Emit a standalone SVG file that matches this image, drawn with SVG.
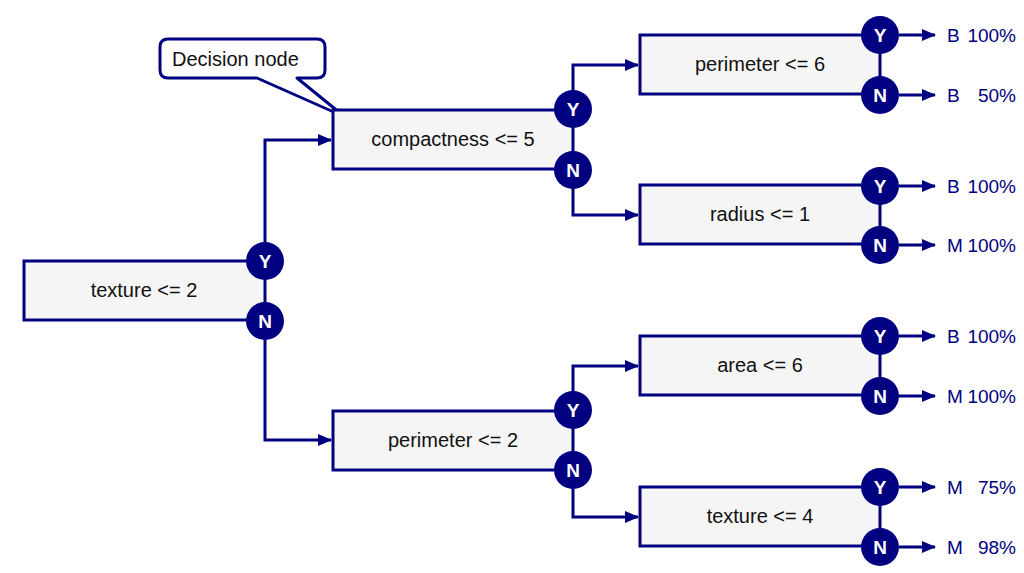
<svg xmlns="http://www.w3.org/2000/svg" width="1024" height="573" viewBox="0 0 1024 573">
<defs>
<marker id="ah" markerWidth="14" markerHeight="12" refX="13" refY="6" orient="auto" markerUnits="userSpaceOnUse">
<path d="M0,0 L14,6 L0,12 Z" fill="#000080"/>
</marker>
<style>
.box{fill:#f5f5f5;stroke:#000080;stroke-width:3}
.lbl{font-family:"Liberation Sans",Arial,sans-serif;font-size:20px;fill:#111;text-anchor:middle}
.c{fill:#000080}
.ct{font-family:"Liberation Sans",Arial,sans-serif;font-size:19px;font-weight:bold;fill:#fff;text-anchor:middle}
.ln{fill:none;stroke:#000080;stroke-width:3}
.res{font-family:"Liberation Sans",Arial,sans-serif;font-size:19px;fill:#000080}
.call{font-family:"Liberation Sans",Arial,sans-serif;font-size:20px;fill:#111}
</style>
</defs>
<rect width="1024" height="573" fill="#fff"/>
<g id="connectors">
<path class="ln" d="M265,261 V140 H331" marker-end="url(#ah)"/>
<path class="ln" d="M265,321 V440 H331" marker-end="url(#ah)"/>
<path class="ln" d="M573,109 V65 H638" marker-end="url(#ah)"/>
<path class="ln" d="M573,170 V215 H638" marker-end="url(#ah)"/>
<path class="ln" d="M573,410 V366 H638" marker-end="url(#ah)"/>
<path class="ln" d="M573,470 V517 H638" marker-end="url(#ah)"/>
<path class="ln" d="M899,35 H935" marker-end="url(#ah)"/>
<path class="ln" d="M899,95 H935" marker-end="url(#ah)"/>
<path class="ln" d="M899,186 H935" marker-end="url(#ah)"/>
<path class="ln" d="M899,245 H935" marker-end="url(#ah)"/>
<path class="ln" d="M899,336 H935" marker-end="url(#ah)"/>
<path class="ln" d="M899,396 H935" marker-end="url(#ah)"/>
<path class="ln" d="M899,487 H935" marker-end="url(#ah)"/>
<path class="ln" d="M899,547 H935" marker-end="url(#ah)"/>
</g>
<g id="callout">
<path d="M168,39 H317 Q325,39 325,47 V70 Q325,78 317,78 H297 L345,117 L257,78 H168 Q160,78 160,70 V47 Q160,39 168,39 Z" fill="#fff" stroke="#000080" stroke-width="3" stroke-linejoin="round"/>
<text x="172" y="66" class="call">Decision node</text>
</g>
<g id="n_root">
<rect class="box" x="24" y="261" width="241" height="59"/>
<text class="lbl" x="144" y="297">texture &lt;= 2</text>
<circle class="c" cx="265" cy="261" r="19"/><text class="ct" x="265" y="268">Y</text>
<circle class="c" cx="265" cy="321" r="19"/><text class="ct" x="265" y="328">N</text>
</g>
<g id="n_compact">
<rect class="box" x="333" y="110" width="240" height="59"/>
<text class="lbl" x="453" y="146">compactness &lt;= 5</text>
<circle class="c" cx="573" cy="109" r="19"/><text class="ct" x="573" y="116">Y</text>
<circle class="c" cx="573" cy="170" r="19"/><text class="ct" x="573" y="177">N</text>
</g>
<g id="n_perim2">
<rect class="box" x="333" y="411" width="240" height="59"/>
<text class="lbl" x="453" y="447">perimeter &lt;= 2</text>
<circle class="c" cx="573" cy="410" r="19"/><text class="ct" x="573" y="417">Y</text>
<circle class="c" cx="573" cy="470" r="19"/><text class="ct" x="573" y="477">N</text>
</g>
<g id="n_perim6">
<rect class="box" x="640" y="35" width="240" height="59"/>
<text class="lbl" x="760" y="71">perimeter &lt;= 6</text>
<circle class="c" cx="880" cy="35" r="19"/><text class="ct" x="880" y="42">Y</text>
<circle class="c" cx="880" cy="95" r="19"/><text class="ct" x="880" y="102">N</text>
</g>
<g id="n_radius">
<rect class="box" x="640" y="185" width="240" height="59"/>
<text class="lbl" x="760" y="221">radius &lt;= 1</text>
<circle class="c" cx="880" cy="186" r="19"/><text class="ct" x="880" y="193">Y</text>
<circle class="c" cx="880" cy="245" r="19"/><text class="ct" x="880" y="252">N</text>
</g>
<g id="n_area">
<rect class="box" x="640" y="336" width="240" height="59"/>
<text class="lbl" x="760" y="372">area &lt;= 6</text>
<circle class="c" cx="880" cy="336" r="19"/><text class="ct" x="880" y="343">Y</text>
<circle class="c" cx="880" cy="396" r="19"/><text class="ct" x="880" y="403">N</text>
</g>
<g id="n_texture4">
<rect class="box" x="640" y="487" width="240" height="59"/>
<text class="lbl" x="760" y="523">texture &lt;= 4</text>
<circle class="c" cx="880" cy="487" r="19"/><text class="ct" x="880" y="494">Y</text>
<circle class="c" cx="880" cy="547" r="19"/><text class="ct" x="880" y="554">N</text>
</g>
<g id="results">
<text class="res" y="42"><tspan x="947">B</tspan><tspan x="1016" text-anchor="end">100%</tspan></text>
<text class="res" y="102"><tspan x="947">B</tspan><tspan x="1016" text-anchor="end">50%</tspan></text>
<text class="res" y="193"><tspan x="947">B</tspan><tspan x="1016" text-anchor="end">100%</tspan></text>
<text class="res" y="252"><tspan x="947">M</tspan><tspan x="1016" text-anchor="end">100%</tspan></text>
<text class="res" y="343"><tspan x="947">B</tspan><tspan x="1016" text-anchor="end">100%</tspan></text>
<text class="res" y="403"><tspan x="947">M</tspan><tspan x="1016" text-anchor="end">100%</tspan></text>
<text class="res" y="494"><tspan x="947">M</tspan><tspan x="1016" text-anchor="end">75%</tspan></text>
<text class="res" y="554"><tspan x="947">M</tspan><tspan x="1016" text-anchor="end">98%</tspan></text>
</g>
</svg>
